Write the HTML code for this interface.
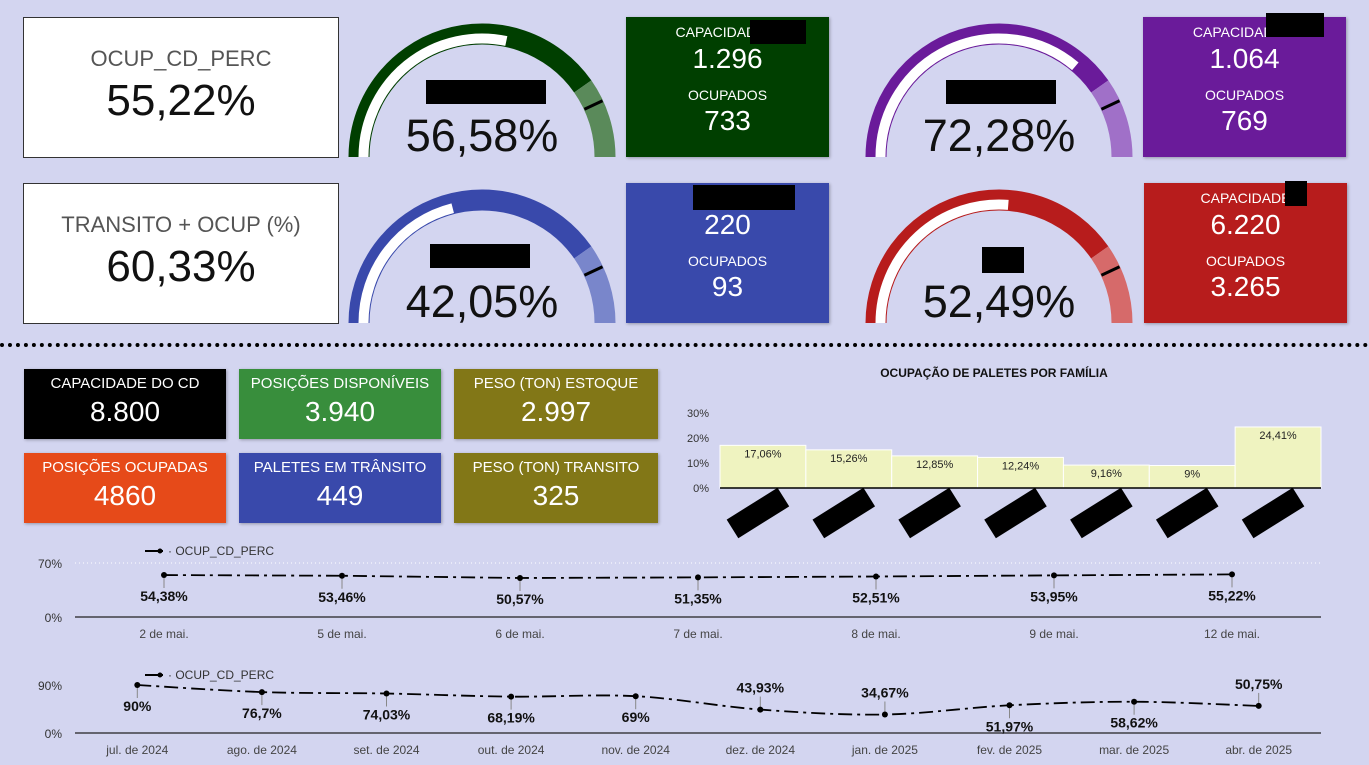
<!DOCTYPE html>
<html><head><meta charset="utf-8">
<style>
body{margin:0;width:1369px;height:765px;background:#d3d5f0;font-family:"Liberation Sans",sans-serif;position:relative;overflow:hidden}
.abs{position:absolute}
.wcard{background:#fff;border:1px solid #333;box-sizing:border-box;text-align:center;color:#111}
.ccard{color:#fff;text-align:center;box-shadow:1px 1px 3px rgba(0,0,0,.3)}
.tile{color:#fff;text-align:center;box-shadow:1px 1px 3px rgba(0,0,0,.3)}
.tile .l{font-size:15px;margin-top:6px}
.tile .v{font-size:28px;margin-top:4px}
</style></head><body>
<div class="abs wcard" style="left:23px;top:17px;width:316px;height:141px">
 <div style="font-size:22px;color:#555;margin-top:28px">OCUP_CD_PERC</div>
 <div style="font-size:44px;margin-top:4px">55,22%</div></div>
<div class="abs wcard" style="left:23px;top:183px;width:316px;height:141px">
 <div style="font-size:22px;color:#555;margin-top:28px">TRANSITO + OCUP (%)</div>
 <div style="font-size:44px;margin-top:4px">60,33%</div></div>

<div class="abs ccard" style="left:626px;top:17px;width:203px;height:140px;background:#003f00">
 <div style="font-size:14px;margin-top:7px">CAPACIDADE N</div><div style="font-size:28px;margin-top:3px">1.296</div>
 <div style="font-size:14px;margin-top:12px">OCUPADOS</div><div style="font-size:28px;margin-top:2px">733</div>
 <div class="abs" style="left:124px;top:3px;width:56px;height:24px;background:#000"></div></div>
<div class="abs ccard" style="left:1143px;top:17px;width:203px;height:140px;background:#6a1b9a">
 <div style="font-size:14px;margin-top:7px">CAPACIDADE P</div><div style="font-size:28px;margin-top:3px">1.064</div>
 <div style="font-size:14px;margin-top:12px">OCUPADOS</div><div style="font-size:28px;margin-top:2px">769</div>
 <div class="abs" style="left:123px;top:-4px;width:58px;height:24px;background:#000"></div></div>
<div class="abs ccard" style="left:626px;top:183px;width:203px;height:140px;background:#3949ab">
 <div style="font-size:14px;margin-top:7px">CAP</div><div style="font-size:28px;margin-top:3px">220</div>
 <div style="font-size:14px;margin-top:12px">OCUPADOS</div><div style="font-size:28px;margin-top:2px">93</div>
 <div class="abs" style="left:67px;top:2px;width:102px;height:25px;background:#000"></div></div>
<div class="abs ccard" style="left:1144px;top:183px;width:203px;height:140px;background:#b71c1c">
 <div style="font-size:14px;margin-top:7px">CAPACIDADE</div><div style="font-size:28px;margin-top:3px">6.220</div>
 <div style="font-size:14px;margin-top:12px">OCUPADOS</div><div style="font-size:28px;margin-top:2px">3.265</div>
 <div class="abs" style="left:141px;top:-2px;width:22px;height:25px;background:#000"></div></div>

<svg id="gauges" class="abs" style="left:0;top:0" width="1369" height="345"></svg>

<div class="abs" style="left:0;top:343px;width:1369px;border-top:4px dotted #000"></div>

<div class="abs tile" style="left:24px;top:369px;width:202px;height:70px;background:#000"><div class="l">CAPACIDADE DO CD</div><div class="v">8.800</div></div>
<div class="abs tile" style="left:239px;top:369px;width:202px;height:70px;background:#388e3c"><div class="l">POSIÇÕES DISPONÍVEIS</div><div class="v">3.940</div></div>
<div class="abs tile" style="left:454px;top:369px;width:204px;height:70px;background:#827717"><div class="l">PESO (TON) ESTOQUE</div><div class="v">2.997</div></div>
<div class="abs tile" style="left:24px;top:453px;width:202px;height:70px;background:#e64a19"><div class="l">POSIÇÕES OCUPADAS</div><div class="v">4860</div></div>
<div class="abs tile" style="left:239px;top:453px;width:202px;height:70px;background:#3949ab"><div class="l">PALETES EM TRÂNSITO</div><div class="v">449</div></div>
<div class="abs tile" style="left:454px;top:453px;width:204px;height:70px;background:#827717"><div class="l">PESO (TON) TRANSITO</div><div class="v">325</div></div>

<svg id="bars" class="abs" style="left:0;top:0" width="1369" height="545"></svg>
<svg id="lines" class="abs" style="left:0;top:0" width="1369" height="765"></svg>

<script>
const NS="http://www.w3.org/2000/svg";
function mk(p,t,a,txt){const e=document.createElementNS(NS,t);for(const k in a)e.setAttribute(k,a[k]);if(txt!=null)e.textContent=txt;p.appendChild(e);return e;}

// Gauges
const gaugeNames=["green-gauge","purple-gauge","blue-gauge","red-gauge"];
const gaugeValues=[56.58,72.28,42.05,52.49];
const gaugeLabels=["56,58%","72,28%","42,05%","52,49%"];
const gcx=[482,999,482,999],gcy=[157,157,323,323];
const gDark=["#003f00","#6a1b9a","#3949ab","#b71c1c"],gLight=["#5a8a5a","#a070c8","#7986cb","#d66a6a"];
const G=document.getElementById('gauges');
function arc(cx,cy,r,a0,a1){const p=a=>[cx+r*Math.cos(a*Math.PI/180),cy-r*Math.sin(a*Math.PI/180)];const s=p(a0),e=p(a1);return `M${s[0]},${s[1]} A${r},${r} 0 0 1 ${e[0]},${e[1]}`;}
const redact=[[426,80,120,24],[946,80,110,24],[430,244,100,24],[982,247,42,26]];
gaugeValues.forEach((v,i)=>{
 const g=mk(G,'g',{});
 
 
 const cx=gcx[i],cy=gcy[i];
 mk(g,'path',{d:arc(cx,cy,123,180,35),stroke:gDark[i],'stroke-width':21,fill:'none'});
 mk(g,'path',{d:arc(cx,cy,123,35,0),stroke:gLight[i],'stroke-width':21,fill:'none'});
 mk(g,'path',{d:arc(cx,cy,118.5,180,180-v/100*180),stroke:'#fff','stroke-width':10,fill:'none'});
 const a=25*Math.PI/180;
 mk(g,'line',{x1:cx+113*Math.cos(a),y1:cy-113*Math.sin(a),x2:cx+133*Math.cos(a),y2:cy-133*Math.sin(a),stroke:'#000','stroke-width':3});
 const r=redact[i];mk(g,'rect',{x:r[0],y:r[1],width:r[2],height:r[3],fill:'#000'});
 mk(g,'text',{x:cx,y:cy-6,'text-anchor':'middle','font-size':45,fill:'#111','font-family':'Liberation Sans'},gaugeLabels[i]);
});

// Bar chart
const famValues=[17.06,15.26,12.85,12.24,9.16,9,24.41];
const famLabels=["17,06%","15,26%","12,85%","12,24%","9,16%","9%","24,41%"];
const famTicks=[0,10,20,30];
const B=document.getElementById('bars');
const bx0=720,bx1=1321,by0=488,bpp=2.5;
const byS=v=>by0-v*bpp,bw=(bx1-bx0)/famValues.length;
mk(B,'text',{x:994,y:377,'text-anchor':'middle','font-size':12,'font-weight':'bold',fill:'#111'},"OCUPAÇÃO DE PALETES POR FAMÍLIA");
famTicks.forEach(t=>mk(B,'text',{x:709,y:byS(t)+4,'text-anchor':'end','font-size':11,fill:'#333'},t+"%"));
famValues.forEach((v,i)=>{
 const r=mk(B,'rect',{x:bx0+i*bw,y:byS(v),width:bw,height:v*bpp,fill:'#eff3c0',stroke:'#fff','stroke-width':1});
 
 
 mk(B,'text',{x:bx0+i*bw+bw/2,y:byS(v)+12,'text-anchor':'middle','font-size':11,fill:'#222'},famLabels[i]);
 const cx=bx0+i*bw+bw/2-5;
 mk(B,'rect',{x:cx-30,y:502,width:60,height:22,fill:'#000',transform:`rotate(-32 ${cx} 513)`});
});
mk(B,'line',{x1:bx0,y1:by0,x2:bx1,y2:by0,stroke:'#000','stroke-width':1.5});

// Line charts
const L=document.getElementById('lines');
const dayCats=["2 de mai.","5 de mai.","6 de mai.","7 de mai.","8 de mai.","9 de mai.","12 de mai."];
const dayValues=[54.38,53.46,50.57,51.35,52.51,53.95,55.22];
const dayLabels=["54,38%","53,46%","50,57%","51,35%","52,51%","53,95%","55,22%"];
const monCats=["jul. de 2024","ago. de 2024","set. de 2024","out. de 2024","nov. de 2024","dez. de 2024","jan. de 2025","fev. de 2025","mar. de 2025","abr. de 2025"];
const monValues=[90,76.7,74.03,68.19,69,43.93,34.67,51.97,58.62,50.75];
const monLabels=["90%","76,7%","74,03%","68,19%","69%","43,93%","34,67%","51,97%","58,62%","50,75%"];
const monAbove=[false,false,false,false,false,true,true,false,false,true];

function lineChart(name,cats,vals,labs,above,y0,ymaxPx,ymax,topTick,legendY,smooth){
 const g=mk(L,'g',{});
 
 
 const x0=75,x1=1321,step=(x1-x0)/cats.length;
 const X=i=>x0+step*(i+0.5), Y=v=>y0-v*(y0-ymaxPx)/ymax;
 mk(g,'line',{x1:x0+70,y1:legendY,x2:x0+88,y2:legendY,stroke:'#000','stroke-width':2});
 mk(g,'circle',{cx:x0+85,cy:legendY,r:2.5,fill:'#000'});
 mk(g,'text',{x:x0+93,y:legendY+4,'font-size':12,fill:'#333'},"· OCUP_CD_PERC");
 mk(g,'text',{x:62,y:Y(topTick)+5,'text-anchor':'end','font-size':12,fill:'#333'},topTick+"%");
 mk(g,'text',{x:62,y:y0+5,'text-anchor':'end','font-size':12,fill:'#333'},"0%");
 if(!smooth) mk(g,'line',{x1:x0,y1:Y(topTick),x2:x1,y2:Y(topTick),stroke:'#fff','stroke-width':1,'stroke-dasharray':'1 3'});
 mk(g,'line',{x1:x0,y1:y0,x2:x1,y2:y0,stroke:'#222','stroke-width':1.2});
 let d=`M${X(0)},${Y(vals[0])}`;
 for(let i=0;i<vals.length-1;i++){
  const p0=[X(Math.max(i-1,0)),Y(vals[Math.max(i-1,0)])],p1=[X(i),Y(vals[i])],p2=[X(i+1),Y(vals[i+1])],p3=[X(Math.min(i+2,vals.length-1)),Y(vals[Math.min(i+2,vals.length-1)])];
  const t=smooth?6:1e9;
  d+=` C${p1[0]+(p2[0]-p0[0])/t},${p1[1]+(p2[1]-p0[1])/t} ${p2[0]-(p3[0]-p1[0])/t},${p2[1]-(p3[1]-p1[1])/t} ${p2[0]},${p2[1]}`;
 }
 mk(g,'path',{d:d,fill:'none',stroke:'#000','stroke-width':1.8,'stroke-dasharray':'14 5 3 5'});
 cats.forEach((c,i)=>{
  const x=X(i),y=Y(vals[i]),up=above&&above[i];
  mk(g,'line',{x1:x,y1:y,x2:x,y2:up?y-13:y+13,stroke:'#888','stroke-width':1});
  mk(g,'circle',{cx:x,cy:y,r:3,fill:'#000'});
  mk(g,'text',{x:x,y:up?y-17:y+26,'text-anchor':'middle','font-size':14,'font-weight':'bold',fill:'#111'},labs[i]);
  mk(g,'text',{x:x,y:y0+21,'text-anchor':'middle','font-size':12,fill:'#444'},c);
 });
}
lineChart('daily-occupancy-chart',dayCats,dayValues,dayLabels,null,617,563,70,70,551,false);
lineChart('monthly-occupancy-chart',monCats,monValues,monLabels,monAbove,733,685,90,90,675,true);
</script>
</body></html>
